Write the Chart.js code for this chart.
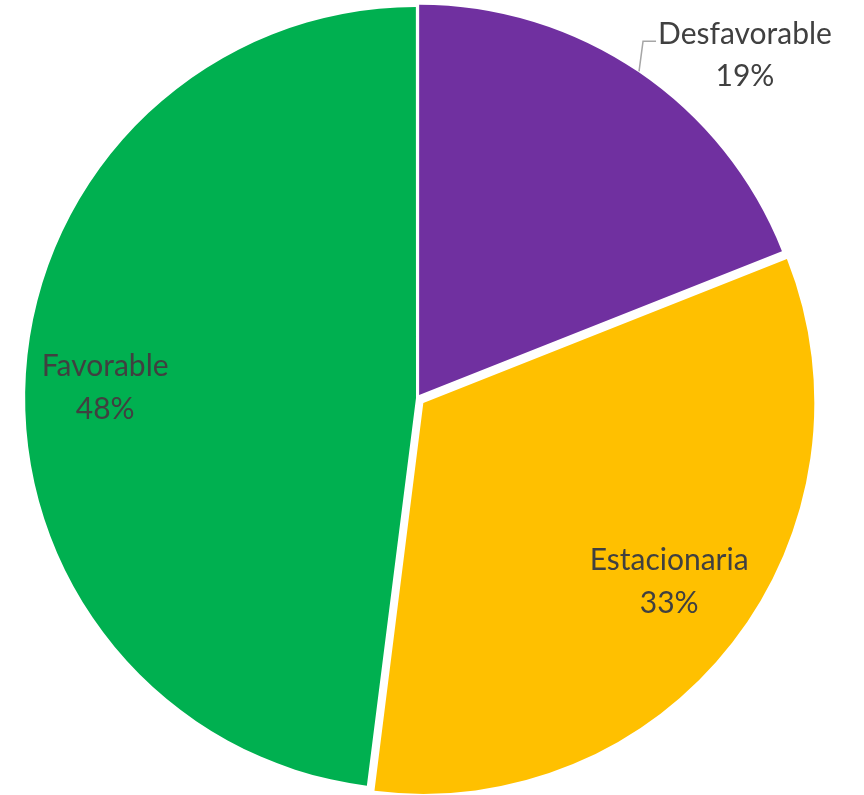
<!DOCTYPE html>
<html>
<head>
<meta charset="utf-8">
<script src="https://cdn.jsdelivr.net/npm/chart.js@4"></script>
<style>
  html, body { margin: 0; padding: 0; background: #fff; overflow: hidden; }
  #wrap { width: 864px; height: 812px; margin-top: -8px; }
</style>
</head>
<body>
<div id="wrap"><canvas id="pieChart"></canvas></div>
<script>
// DATA

const categories = ['Desfavorable', 'Estacionaria', 'Favorable'];
const values = [19, 33, 48];
const sliceColors = ['#7030a0', '#ffc000', '#00b050'];

// chart.js moves an arc by offset/4 * (2 - sin(circumference)), so these
// give roughly 4px, 9px and 2px of explode
const sliceOffsets = [15, 32, 4];

const FONT = '30px Lato, "Open Sans", sans-serif';
const TEXT_COLOR = '#404040';


// same shift as ArcElement.draw
function arcShift(arc, off) {
    const circ = arc.endAngle - arc.startAngle;
    const fix = 1 - Math.sin(Math.min(Math.PI, circ));
    return off / 4 * (1 + fix);
}


// LABELS DRAWN ON / NEXT TO THE SLICES

const sliceLabels = {
    id: 'sliceLabels',

    afterDatasetsDraw(chart) {

        const ctx = chart.ctx;
        const meta = chart.getDatasetMeta(0);
        const total = values.reduce((a, b) => a + b, 0);

        ctx.save();
        ctx.font = FONT;
        ctx.fillStyle = TEXT_COLOR;
        ctx.textBaseline = 'middle';

        meta.data.forEach((arc, i) => {

            const { x, y, startAngle, endAngle, outerRadius } =
                arc.getProps(['x', 'y', 'startAngle', 'endAngle', 'outerRadius'], true);

            const mid = (startAngle + endAngle) / 2;
            const shift = arcShift(arc, sliceOffsets[i]);
            const pct = Math.round(values[i] / total * 100) + '%';

            if (i === 0) {
                // outside label with a leader line
                const r0 = outerRadius + shift + 1;
                const p1 = { x: x + Math.cos(mid) * r0, y: y + Math.sin(mid) * r0 };
                const p2 = { x: p1.x + 4, y: p1.y - 30 };
                const p3 = { x: p2.x + 13, y: p2.y };

                ctx.strokeStyle = '#a6a6a6';
                ctx.lineWidth = 1.5;
                ctx.beginPath();
                ctx.moveTo(p1.x, p1.y);
                ctx.lineTo(p2.x, p2.y);
                ctx.lineTo(p3.x, p3.y);
                ctx.stroke();

                const w = ctx.measureText(categories[i]).width;
                const cx = p3.x + 2 + w / 2;
                ctx.textAlign = 'center';
                ctx.fillText(categories[i], cx, p3.y - 7);
                ctx.fillText(pct, cx, p3.y + 35);

            } else {
                const a = mid - 0.03;
                const r = outerRadius * 0.8;
                const cx = x + Math.cos(a) * r;
                const cy = y + Math.sin(a) * r;
                ctx.textAlign = 'center';
                ctx.fillText(categories[i], cx, cy - 21);
                ctx.fillText(pct, cx, cy + 22);
            }
        });

        ctx.restore();
    }
};


// CHART

const ctx = document.getElementById('pieChart');

new Chart(ctx, {
    type: 'pie',

    data: {
        labels: categories,

        datasets: [{
            data: values,
            backgroundColor: sliceColors,
            borderWidth: 0,
            offset: sliceOffsets,
            hoverOffset: 0
        }]
    },

    options: {
        responsive: true,
        maintainAspectRatio: false,
        animation: false,

        layout: {
            padding: { left: 11, right: 41, top: 0, bottom: 0 }
        },

        plugins: {
            legend: { display: false },
            tooltip: { enabled: false }
        }
    },

    plugins: [sliceLabels]
});
</script>
</body>
</html>
